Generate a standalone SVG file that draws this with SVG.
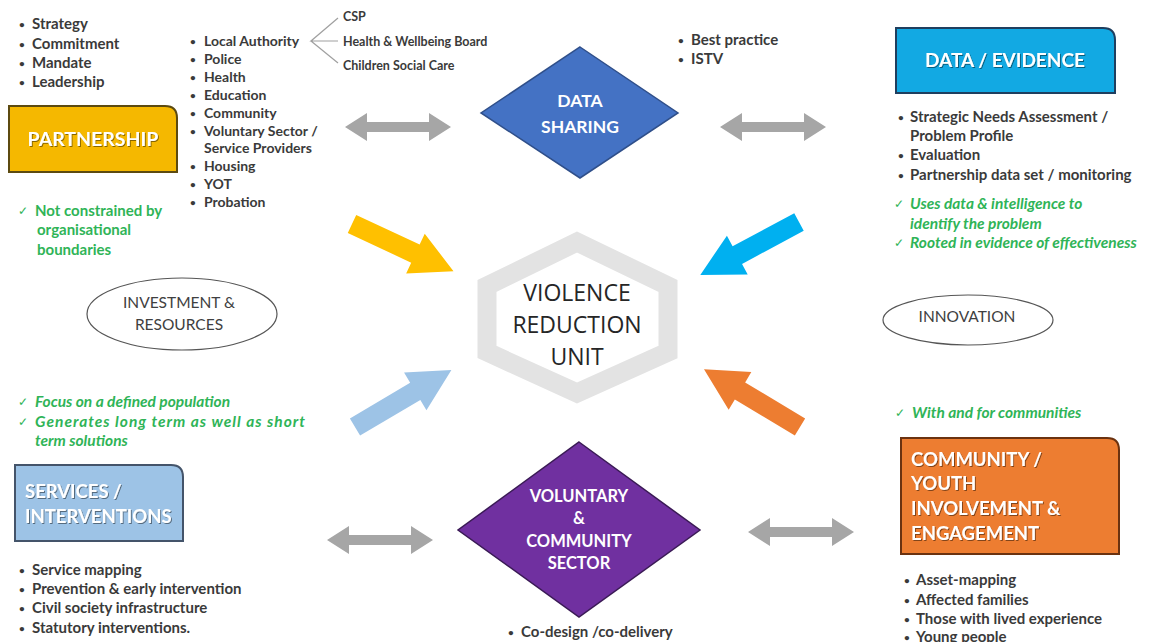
<svg xmlns="http://www.w3.org/2000/svg" width="1149" height="642" viewBox="0 0 1149 642">
<style>
  text { font-family: Lato, "Liberation Sans", sans-serif; }
  .b { font-size: 15px; font-weight: bold; fill: #3a3a3a; }
  .bp { font-size: 14px; font-weight: bold; fill: #3a3a3a; }
  .s { font-size: 12.5px; font-weight: bold; fill: #3a3a3a; }
  .g { font-size: 15px; font-weight: bold; fill: #2fb457; }
  .gi { font-size: 15.5px; font-weight: bold; font-style: italic; fill: #2fb457; }
  .ck { font-size: 12px; font-weight: normal; font-style: normal; }
  .d { font-size: 10px; }
  .box { font-size: 18.5px; font-weight: bold; fill: #ffffff; filter: url(#sh); }
  .dia { font-size: 17.5px; font-weight: bold; fill: #ffffff; text-anchor: middle; }
  .ell { font-size: 15.5px; fill: #404040; text-anchor: middle; }
  .vru { font-size: 23px; fill: #262626; text-anchor: middle; font-family: "Open Sans", "Liberation Sans", sans-serif; }
  .gray { fill: #a6a6a6; }
</style>
<defs>
  <filter id="sh" x="-10%" y="-20%" width="120%" height="140%">
    <feDropShadow dx="1" dy="1" stdDeviation="0.6" flood-color="#000" flood-opacity="0.45"/>
  </filter>
  <polygon id="bigArrow" points="0,-10 70,-10 70,-22 112,0 70,22 70,10 0,10"/>
  <polygon id="dbl" points="0,0 22,-14 22,-5 84,-5 84,-14 106,0 84,14 84,5 22,5 22,14"/>
</defs>
<rect width="1149" height="642" fill="#ffffff"/>

<!-- connectors -->
<g id="connectors">
  <use href="#dbl" class="gray" transform="translate(345,127)"/>
  <use href="#dbl" class="gray" transform="translate(720,127)"/>
  <use href="#dbl" class="gray" transform="translate(327,540)"/>
  <use href="#dbl" class="gray" transform="translate(748,532)"/>
  <use href="#bigArrow" fill="#ffc000" transform="translate(352,224) rotate(25)"/>
  <use href="#bigArrow" fill="#00b0f0" transform="translate(799,222) rotate(151.8)"/>
  <use href="#bigArrow" fill="#9dc3e6" transform="translate(355,427) rotate(-30.6)"/>
  <use href="#bigArrow" fill="#ed7d31" transform="translate(800,427) rotate(-149)"/>
  <path d="M338,18 L311,41 L338,41 M311,41 L338,63" fill="none" stroke="#a0a0a0" stroke-width="1.2"/>
</g>

<!-- Partnership -->
<g id="partnership">
  <text class="b"><tspan class="d" x="19" y="28">•</tspan><tspan x="32" y="29">Strategy</tspan></text>
  <text class="b"><tspan class="d" x="19" y="48">•</tspan><tspan x="32" y="49">Commitment</tspan></text>
  <text class="b"><tspan class="d" x="19" y="67">•</tspan><tspan x="32" y="68">Mandate</tspan></text>
  <text class="b"><tspan class="d" x="19" y="86">•</tspan><tspan x="32" y="87">Leadership</tspan></text>
  <path d="M9,106 H165 Q177,106 177,118 V172 H9 Z" fill="#f5b800" stroke="#5c4a10" stroke-width="2"/>
  <text class="box" x="93" y="146" text-anchor="middle" style="font-size:19.5px">PARTNERSHIP</text>
  <text class="g"><tspan class="ck" x="18" y="215">✓</tspan><tspan x="35" y="216">Not constrained by</tspan><tspan x="37" y="235">organisational</tspan><tspan x="37" y="255">boundaries</tspan></text>
</g>

<!-- Partners list -->
<g id="partners">
  <text class="bp"><tspan class="d" x="190" y="45">•</tspan><tspan x="204" y="46">Local Authority</tspan></text>
  <text class="bp"><tspan class="d" x="190" y="63">•</tspan><tspan x="204" y="64">Police</tspan></text>
  <text class="bp"><tspan class="d" x="190" y="81">•</tspan><tspan x="204" y="82">Health</tspan></text>
  <text class="bp"><tspan class="d" x="190" y="99">•</tspan><tspan x="204" y="100">Education</tspan></text>
  <text class="bp"><tspan class="d" x="190" y="117">•</tspan><tspan x="204" y="118">Community</tspan></text>
  <text class="bp"><tspan class="d" x="190" y="135">•</tspan><tspan x="204" y="136">Voluntary Sector /</tspan></text>
  <text class="bp" x="204" y="153">Service Providers</text>
  <text class="bp"><tspan class="d" x="190" y="170">•</tspan><tspan x="204" y="171">Housing</tspan></text>
  <text class="bp"><tspan class="d" x="190" y="188">•</tspan><tspan x="204" y="189">YOT</tspan></text>
  <text class="bp"><tspan class="d" x="190" y="206">•</tspan><tspan x="204" y="207">Probation</tspan></text>
  <text class="s" x="343" y="21">CSP</text>
  <text class="s" x="343" y="46">Health &amp; Wellbeing Board</text>
  <text class="s" x="343" y="70">Children Social Care</text>
</g>

<!-- Data sharing -->
<g id="data-sharing">
  <polygon points="580,47 678,113 580,178 481,113" fill="#4472c4" stroke="#2f4f8a" stroke-width="1.5"/>
  <text class="dia" x="580" y="107">DATA</text>
  <text class="dia" x="580" y="133">SHARING</text>
  <text class="b"><tspan class="d" x="678" y="44">•</tspan><tspan x="691" y="45">Best practice</tspan></text>
  <text class="b"><tspan class="d" x="678" y="63">•</tspan><tspan x="691" y="64">ISTV</tspan></text>
</g>

<!-- Data / evidence -->
<g id="data-evidence">
  <path d="M896,28 H1103 Q1115,28 1115,40 V93 H896 Z" fill="#12a9e3" stroke="#1f3f5f" stroke-width="2"/>
  <text class="box" x="1005" y="67" text-anchor="middle" style="font-size:19px">DATA / EVIDENCE</text>
  <text class="b"><tspan class="d" x="898" y="121">•</tspan><tspan x="910" y="122">Strategic Needs Assessment /</tspan></text>
  <text class="b" x="910" y="141">Problem Profile</text>
  <text class="b"><tspan class="d" x="898" y="159">•</tspan><tspan x="910" y="160">Evaluation</tspan></text>
  <text class="b"><tspan class="d" x="898" y="179">•</tspan><tspan x="910" y="180">Partnership data set / monitoring</tspan></text>
  <text class="gi"><tspan class="ck" x="894" y="208">✓</tspan><tspan x="910" y="209">Uses data &amp; intelligence to</tspan></text>
  <text class="gi" x="910" y="229">identify the problem</text>
  <text class="gi"><tspan class="ck" x="894" y="247">✓</tspan><tspan x="910" y="248">Rooted in evidence of effectiveness</tspan></text>
</g>

<!-- VRU -->
<g id="vru">
  <polygon points="577,242 668,286 668,352 577,393 487,352 487,286" fill="#ffffff" stroke="#e3e3e3" stroke-width="19" stroke-linejoin="miter"/>
  <text class="vru" x="577" y="301">VIOLENCE</text>
  <text class="vru" x="577" y="333">REDUCTION</text>
  <text class="vru" x="577" y="365">UNIT</text>
</g>

<!-- Investment -->
<g id="investment">
  <ellipse cx="182" cy="314" rx="95" ry="36" fill="#ffffff" stroke="#555555" stroke-width="1.2"/>
  <text class="ell" x="179" y="308">INVESTMENT &amp;</text>
  <text class="ell" x="179" y="330">RESOURCES</text>
</g>

<!-- Innovation -->
<g id="innovation">
  <ellipse cx="968" cy="320" rx="85" ry="25" fill="#ffffff" stroke="#555555" stroke-width="1.2"/>
  <text class="ell" x="967" y="322">INNOVATION</text>
</g>

<!-- Services -->
<g id="services">
  <text class="gi"><tspan class="ck" x="18" y="406">✓</tspan><tspan x="35" y="407">Focus on a defined population</tspan></text>
  <text class="gi"><tspan class="ck" x="18" y="426">✓</tspan><tspan x="35" y="427" textLength="270" lengthAdjust="spacing">Generates long term as well as short</tspan></text>
  <text class="gi" x="35" y="446">term solutions</text>
  <path d="M15,465 H171 Q183,465 183,477 V541 H15 Z" fill="#9dc3e6" stroke="#44546a" stroke-width="2"/>
  <text class="box" x="25" y="498">SERVICES /</text>
  <text class="box" x="25" y="523">INTERVENTIONS</text>
  <text class="b"><tspan class="d" x="19" y="574">•</tspan><tspan x="32" y="575">Service mapping</tspan></text>
  <text class="b"><tspan class="d" x="19" y="593">•</tspan><tspan x="32" y="594">Prevention &amp; early intervention</tspan></text>
  <text class="b"><tspan class="d" x="19" y="612">•</tspan><tspan x="32" y="613">Civil society infrastructure</tspan></text>
  <text class="b"><tspan class="d" x="19" y="632">•</tspan><tspan x="32" y="633">Statutory interventions.</tspan></text>
</g>

<!-- Voluntary & community sector -->
<g id="vcs">
  <polygon points="579,442 700,530 579,617 458,530" fill="#7030a0" stroke="#3a1a55" stroke-width="1.5"/>
  <text class="dia" x="579" y="502" style="font-size:16.5px">VOLUNTARY</text>
  <text class="dia" x="579" y="524" style="font-size:16.5px">&amp;</text>
  <text class="dia" x="579" y="547" style="font-size:16.5px">COMMUNITY</text>
  <text class="dia" x="579" y="569" style="font-size:16.5px">SECTOR</text>
  <text class="b"><tspan class="d" x="508" y="636">•</tspan><tspan x="521" y="637">Co-design /co-delivery</tspan></text>
</g>

<!-- Community -->
<g id="community">
  <text class="gi"><tspan class="ck" x="895" y="417">✓</tspan><tspan x="912" y="418">With and for communities</tspan></text>
  <path d="M901,438 H1107 Q1119,438 1119,450 V554 H901 Z" fill="#ed7d31" stroke="#6b3210" stroke-width="2"/>
  <text class="box" x="911" y="466">COMMUNITY /</text>
  <text class="box" x="911" y="490">YOUTH</text>
  <text class="box" x="911" y="515">INVOLVEMENT &amp;</text>
  <text class="box" x="911" y="540">ENGAGEMENT</text>
  <text class="b"><tspan class="d" x="904" y="584">•</tspan><tspan x="916" y="585">Asset-mapping</tspan></text>
  <text class="b"><tspan class="d" x="904" y="604">•</tspan><tspan x="916" y="605">Affected families</tspan></text>
  <text class="b"><tspan class="d" x="904" y="623">•</tspan><tspan x="916" y="624">Those with lived experience</tspan></text>
  <text class="b"><tspan class="d" x="904" y="641">•</tspan><tspan x="916" y="642">Young people</tspan></text>
</g>
</svg>
